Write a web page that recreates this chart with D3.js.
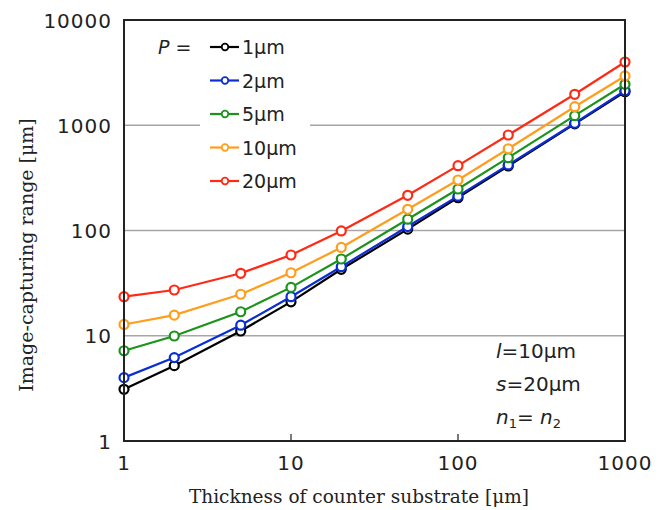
<!DOCTYPE html>
<html>
<head>
<meta charset="utf-8">
<script src="https://cdn.jsdelivr.net/npm/d3@7"></script>
<style>
  body { margin: 0; background: #fff; }
  svg { display: block; }
</style>
</head>
<body>
<div id="chart"></div>
<script>
// thickness of counter substrate (um)
const thickness = [1, 2, 5, 10, 20, 50, 100, 200, 500, 1000];

const pitchLabels = ["1μm", "2μm", "5μm", "10μm", "20μm"];
const colors = ["#000000", "#0a2ed2", "#1c931c", "#ff9d1c", "#ff2a14"];

const p1 = [3.1, 5.2, 11.1, 21, 42.8, 103, 205, 410, 1030, 2080];
const p2 = [4.0, 6.2, 12.6, 23.5, 45.3, 109, 212, 420, 1045, 2130];
const p5 = [7.2, 9.95, 16.9, 28.8, 53.6, 128, 248, 492, 1233, 2450];
const p10 = [12.8, 15.7, 24.8, 39.7, 69, 159, 302, 598, 1500, 2940];
const p20 = [23.5, 27.2, 39.2, 58.5, 99, 216, 413, 808, 1968, 3990];
const seriesValues = [p1, p2, p5, p10, p20];

const xTicks = [1, 10, 100, 1000];
const yTicks = [1, 10, 100, 1000, 10000];

const W = 668, H = 510;
const margin = {left: 124, right: 43, top: 20, bottom: 69};

const svg = d3.select("#chart").append("svg")
    .attr("width", W).attr("height", H);

const x = d3.scaleLog().domain([1, 1000]).range([margin.left, W - margin.right]);
const y = d3.scaleLog().domain([1, 10000]).range([H - margin.bottom, margin.top]);

const tickFont = "'DejaVu Sans', Verdana, sans-serif";
const titleFont = "'DejaVu Serif', 'Liberation Serif', serif";

// gridlines
svg.append("g").selectAll("line")
    .data(yTicks.slice(1, -1))
    .join("line")
    .attr("x1", x(1)).attr("x2", x(1000))
    .attr("y1", d => y(d)).attr("y2", d => y(d))
    .attr("stroke", "#a6a6a6").attr("stroke-width", 1.5);

// x axis ticks (inward)
svg.append("g").selectAll("line")
    .data([10, 100])
    .join("line")
    .attr("x1", d => x(d)).attr("x2", d => x(d))
    .attr("y1", y(1)).attr("y2", y(1) - 7)
    .attr("stroke", "#222").attr("stroke-width", 1.2);

// tick labels
svg.append("g").selectAll("text")
    .data(xTicks)
    .join("text")
    .attr("x", d => x(d)).attr("y", 470)
    .attr("text-anchor", "middle")
    .style("font-family", tickFont).style("font-size", "20px")
    .style("letter-spacing", "1px")
    .attr("fill", "#222")
    .text(d => d);

svg.append("g").selectAll("text")
    .data(yTicks)
    .join("text")
    .attr("x", 112).attr("y", d => y(d) + 7.5)
    .attr("text-anchor", "end")
    .style("font-family", tickFont).style("font-size", "20px")
    .style("letter-spacing", "1px")
    .attr("fill", "#222")
    .text(d => d);

// axis titles
svg.append("text")
    .attr("x", 359).attr("y", 503)
    .attr("text-anchor", "middle")
    .style("font-family", titleFont).style("font-size", "18.5px")
    .attr("fill", "#222")
    .text("Thickness of counter substrate [μm]");

svg.append("text")
    .attr("transform", "translate(33,255) rotate(-90)")
    .attr("text-anchor", "middle")
    .style("font-family", titleFont).style("font-size", "19px")
    .attr("fill", "#222")
    .text("Image-capturing range [μm]");

// legend background hides the gridline
svg.append("rect")
    .attr("x", 200).attr("y", 30).attr("width", 110).attr("height", 168)
    .attr("fill", "#fff");

// series
const line = d3.line()
    .x((d, i) => x(thickness[i]))
    .y(d => y(d));

seriesValues.forEach((vals, k) => {
    const g = svg.append("g");
    g.append("path")
        .attr("d", line(vals))
        .attr("fill", "none")
        .attr("stroke", colors[k]).attr("stroke-width", 2.2);
    g.selectAll("circle")
        .data(vals)
        .join("circle")
        .attr("cx", (d, i) => x(thickness[i]))
        .attr("cy", d => y(d))
        .attr("r", 4.5)
        .attr("fill", "#fff")
        .attr("stroke", colors[k]).attr("stroke-width", 2.2);
});

// frame
svg.append("rect")
    .attr("x", x(1)).attr("y", y(10000))
    .attr("width", x(1000) - x(1)).attr("height", y(1) - y(10000))
    .attr("fill", "none").attr("stroke", "#222").attr("stroke-width", 2);

// legend
const legend = svg.append("g");
const legY = d3.scaleLinear().domain([0, 4]).range([47, 181]);

legend.append("text")
    .attr("x", 158).attr("y", legY(0) + 7)
    .style("font-family", tickFont).style("font-size", "19px")
    .attr("fill", "#222")
    .html("<tspan font-style='italic'>P</tspan> =");

pitchLabels.forEach((lab, k) => {
    const yy = legY(k);
    legend.append("line")
        .attr("x1", 210).attr("x2", 239).attr("y1", yy).attr("y2", yy)
        .attr("stroke", colors[k]).attr("stroke-width", 2.2);
    legend.append("circle")
        .attr("cx", 225).attr("cy", yy).attr("r", 3.3)
        .attr("fill", "#fff").attr("stroke", colors[k]).attr("stroke-width", 1.8);
    legend.append("text")
        .attr("x", 242).attr("y", yy + 7)
        .style("font-family", tickFont).style("font-size", "19px")
        .attr("fill", "#222")
        .text(lab);
});

// parameter note
const note = svg.append("g")
    .style("font-family", tickFont).style("font-size", "20px")
    .attr("fill", "#222");
note.append("text").attr("x", 496).attr("y", 358)
    .html("<tspan font-style='italic'>l</tspan>=10μm");
note.append("text").attr("x", 496).attr("y", 391)
    .html("<tspan font-style='italic'>s</tspan>=20μm");
note.append("text").attr("x", 496).attr("y", 424)
    .html("<tspan font-style='italic'>n</tspan><tspan font-size='13px' dy='4'>1</tspan><tspan dy='-4'>= </tspan><tspan font-style='italic'>n</tspan><tspan font-size='13px' dy='4'>2</tspan>");
</script>
</body>
</html>
